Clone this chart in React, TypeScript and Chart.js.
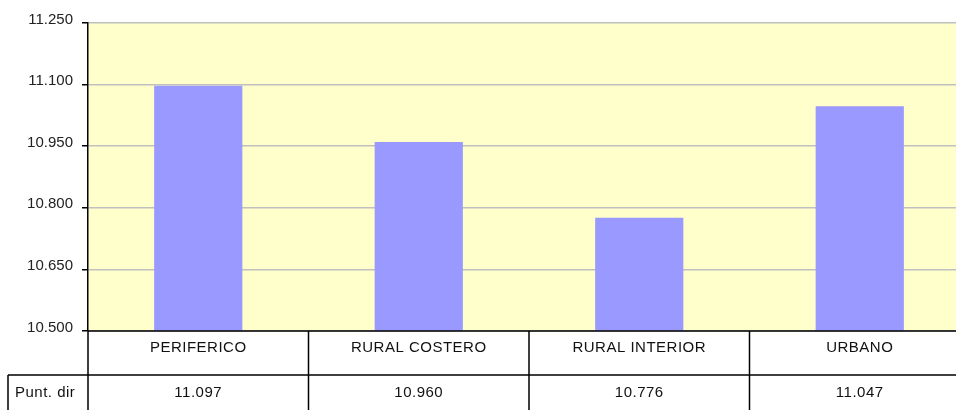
import React, { useEffect, useRef } from "react";
import { Chart, registerables } from "chart.js";

Chart.register(...registerables);

const categories = ["PERIFERICO", "RURAL COSTERO", "RURAL INTERIOR", "URBANO"];
const seriesLabel = "Punt. dir";
const values = [11097, 10960, 10776, 11047];
const yMin = 10500;
const yMax = 11250;
const yStep = 150;

const FONT = '"Liberation Sans", Arial, sans-serif';

function fmt(n: number): string {
  const r = Math.round(n);
  const th = Math.floor(r / 1000);
  const rest = String(r % 1000).padStart(3, "0");
  return th + "." + rest;
}

const tablePlugin = {
  id: "tablePlugin",
  beforeDraw(chart: any) {
    const { ctx, chartArea } = chart;
    ctx.save();
    ctx.fillStyle = "#FFFFCC";
    ctx.fillRect(chartArea.left, chartArea.top, chartArea.right - chartArea.left, chartArea.bottom - chartArea.top);
    ctx.restore();
  },
  afterDraw(chart: any) {
    const { ctx, chartArea } = chart;
    const x = chart.scales.x;
    const H = chart.height;
    const W = chart.width;
    const bottom = chartArea.bottom;
    const rowLine = bottom + 44;
    ctx.save();
    ctx.strokeStyle = "#000";
    ctx.lineWidth = 1.5;
    ctx.beginPath();
    ctx.moveTo(chartArea.left, bottom);
    ctx.lineTo(W, bottom);
    ctx.moveTo(8, rowLine);
    ctx.lineTo(W, rowLine);
    ctx.moveTo(8, rowLine);
    ctx.lineTo(8, H);
    const n = categories.length;
    const cw = (chartArea.right - chartArea.left) / n;
    for (let i = 0; i <= n; i++) {
      const xx = chartArea.left + cw * i;
      ctx.moveTo(xx, bottom);
      ctx.lineTo(xx, H);
    }
    ctx.stroke();

    ctx.fillStyle = "#111";
    ctx.font = "15px " + FONT;
    ctx.textBaseline = "middle";
    (ctx as any).letterSpacing = "0.5px";
    ctx.textAlign = "center";
    categories.forEach((c, i) => {
      const cx = x.getPixelForValue(i);
      ctx.fillText(c, cx, bottom + 17);
      ctx.fillText(fmt(values[i]), cx, rowLine + 18);
    });
    ctx.textAlign = "left";
    ctx.fillText(seriesLabel, 15, rowLine + 18);
    ctx.restore();
  },
};

export default function App() {
  const ref = useRef<HTMLCanvasElement | null>(null);
  useEffect(() => {
    if (!ref.current) return;
    const chart = new Chart(ref.current, {
      type: "bar",
      data: {
        labels: categories,
        datasets: [
          {
            label: seriesLabel,
            data: values,
            backgroundColor: "#9999FF",
            borderWidth: 0,
            barPercentage: 0.4,
            categoryPercentage: 1,
          },
        ],
      },
      options: {
        animation: false,
        responsive: true,
        maintainAspectRatio: false,
        layout: { padding: { left: 0, top: 23, right: 5, bottom: 89 } },
        plugins: { legend: { display: false }, tooltip: { enabled: false } },
        scales: {
          x: { display: false },
          y: {
            min: yMin,
            max: yMax,
            afterFit(scale: any) {
              scale.width = 88;
            },
            ticks: {
              stepSize: yStep,
              color: "#222",
              font: { family: FONT, size: 15 },
              padding: 9,
              labelOffset: -3.5,
              callback: (v: any) => fmt(Number(v)),
            },
            grid: {
              color: "#c0c0c0",
              lineWidth: 1.5,
              tickColor: "#000",
              tickLength: 6,
            },
            border: { color: "#000", width: 1.5 },
          },
        },
      },
      plugins: [tablePlugin],
    });
    return () => chart.destroy();
  }, []);
  return (
    <div style={{ position: "fixed", left: 0, top: 0, width: 956, height: 410, overflow: "hidden", background: "#fff" }}>
      <div style={{ position: "absolute", left: 0, top: 0, width: 975, height: 420 }}>
        <canvas ref={ref} />
      </div>
    </div>
  );
}
